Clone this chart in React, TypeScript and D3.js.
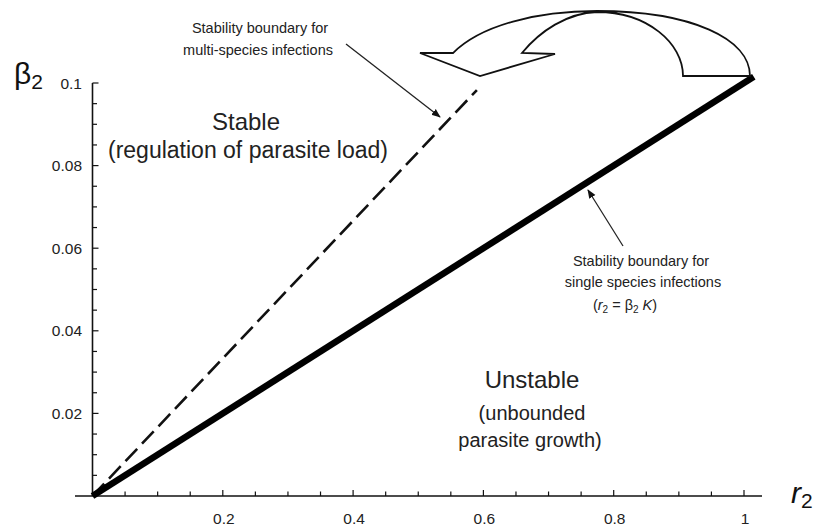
import React from "react";
import * as d3 from "d3";

const W = 815;
const H = 528;

// axis ticks
const xMajorTicks = [0.2, 0.4, 0.6, 0.8, 1];
const xTickLabels = ["0.2", "0.4", "0.6", "0.8", "1"];
const yMajorTicks = [0.02, 0.04, 0.06, 0.08, 0.1];
const yTickLabels = ["0.02", "0.04", "0.06", "0.08", "0.1"];
const xMinorStep = 0.05;
const yMinorStep = 0.005;

// boundary lines (r2, beta2)
const singleR = [0, 1.015];
const singleBeta = [0, 0.1015];
const multiR = [0, 0.59];
const multiBeta = [0, 0.0983];

// curved arrow outline, data units
const arrowHeadR = [0.5533, 0.5027, 0.5948, 0.7099, 0.6592];
const arrowHeadB = [0.10726, 0.10726, 0.10169, 0.10702, 0.10726];
const arrowTopR = 0.7744;
const arrowTopB = 0.11743;
const arrowInnerEndR = 0.9064;
const arrowOuterEndR = 1.0092;
const arrowEndB = 0.10169;

const FONT = "'Liberation Sans', Arial, Helvetica, sans-serif";

export default function App() {
  const x = d3.scaleLinear().domain([0, 1]).range([92.5, 744]);
  const y = d3.scaleLinear().domain([0, 0.1]).range([496, 83]);

  const xMinor = d3.range(xMinorStep, 1 + 1e-9, xMinorStep);
  const yMinor = d3.range(yMinorStep, 0.1 + 1e-9, yMinorStep);
  const isMajor = (v: number, arr: number[]) => arr.some((a) => Math.abs(a - v) < 1e-9);

  const line = d3
    .line<[number, number]>()
    .x((d) => x(d[0]))
    .y((d) => y(d[1]));

  const singlePts = singleR.map((r, i) => [r, singleBeta[i]] as [number, number]);
  const multiPts = multiR.map((r, i) => [r, multiBeta[i]] as [number, number]);

  // big curved arrow
  const hx = arrowHeadR.map((r) => x(r));
  const hy = arrowHeadB.map((b) => y(b));
  const tx = x(arrowTopR);
  const ty = y(arrowTopB);
  const ix = x(arrowInnerEndR);
  const ox = x(arrowOuterEndR);
  const ey = y(arrowEndB);
  const p = d3.path();
  p.moveTo(hx[0], hy[0]);
  p.bezierCurveTo(hx[0] + 28, ty + 14, tx - 60, ty, tx, ty);
  p.bezierCurveTo(tx + 95, ty, ox, ty + 28, ox, ey);
  p.lineTo(ix, ey);
  p.bezierCurveTo(ix, ty + 32, tx + 50, ty + 1, tx, ty + 1);
  p.bezierCurveTo(tx - 30, ty + 2, hx[4] + 18, hy[4] - 22, hx[4], hy[4]);
  p.lineTo(hx[3], hy[3]);
  p.lineTo(hx[2], hy[2]);
  p.lineTo(hx[1], hy[1]);
  p.closePath();

  return (
    <div style={{ position: "fixed", left: 0, top: 0 }}>
      <svg width={W} height={H} viewBox={`0 0 ${W} ${H}`} style={{ display: "block", background: "#fff" }}>
        <defs>
          <marker id="ah" viewBox="0 0 10 10" refX="9" refY="5" markerWidth="7" markerHeight="7" orient="auto">
            <path d="M0,1 L10,5 L0,9 Z" fill="#111" />
          </marker>
        </defs>
        <rect width={W} height={H} fill="#fff" />

        {/* axes */}
        <line x1={75} x2={762} y1={y(0)} y2={y(0)} stroke="#111" strokeWidth={1.6} />
        <line x1={x(0)} x2={x(0)} y1={y(0)} y2={y(0.1)} stroke="#111" strokeWidth={1.6} />
        {xMinor.map((v) => (
          <line key={"xt" + v} x1={x(v)} x2={x(v)} y1={y(0)} y2={y(0) - (isMajor(v, xMajorTicks) ? 6 : 4.5)} stroke="#111" strokeWidth={1.2} />
        ))}
        {yMinor.map((v) => (
          <line key={"yt" + v} x1={x(0)} x2={x(0) + (isMajor(v, yMajorTicks) ? 6 : 4.5)} y1={y(v)} y2={y(v)} stroke="#111" strokeWidth={1.2} />
        ))}
        {xMajorTicks.map((v, i) => (
          <text key={"xl" + v} x={x(v) + 1} y={524} fontFamily={FONT} fontSize={15.5} textAnchor="middle" fill="#222">
            {xTickLabels[i]}
          </text>
        ))}
        {yMajorTicks.map((v, i) => (
          <text key={"yl" + v} x={82} y={y(v) + 5.5} fontFamily={FONT} fontSize={15.5} textAnchor="end" fill="#222">
            {yTickLabels[i]}
          </text>
        ))}

        {/* axis titles */}
        <text x={14} y={84} fontFamily={FONT} fontSize={30} fill="#111">
          β<tspan fontSize={21} dy={5}>2</tspan>
        </text>
        <text x={791} y={503} fontFamily={FONT} fontSize={30} fontStyle="italic" fill="#111">
          r<tspan fontSize={21} dy={5} fontStyle="normal">2</tspan>
        </text>

        {/* boundary lines */}
        <path d={line(multiPts) || ""} fill="none" stroke="#111" strokeWidth={2.6} strokeDasharray="17,7" />
        <path d={line(singlePts) || ""} fill="none" stroke="#000" strokeWidth={6.5} />

        {/* region labels */}
        <text x={246} y={130} fontFamily={FONT} fontSize={24} textAnchor="middle" fill="#222">Stable</text>
        <text x={248} y={158} fontFamily={FONT} fontSize={23} textAnchor="middle" fill="#222">(regulation of parasite load)</text>
        <text x={532} y={388} fontFamily={FONT} fontSize={24} textAnchor="middle" fill="#222">Unstable</text>
        <text x={532} y={420} fontFamily={FONT} fontSize={20} textAnchor="middle" fill="#222">(unbounded</text>
        <text x={530} y={447} fontFamily={FONT} fontSize={20} textAnchor="middle" fill="#222">parasite growth)</text>

        {/* annotation: multi-species */}
        <text x={260} y={33} fontFamily={FONT} fontSize={14.5} textAnchor="middle" fill="#222">Stability boundary for</text>
        <text x={258} y={55} fontFamily={FONT} fontSize={14.5} textAnchor="middle" fill="#222">multi-species infections</text>
        <line x1={346} y1={44} x2={440} y2={117} stroke="#222" strokeWidth={1.3} markerEnd="url(#ah)" />

        {/* annotation: single species */}
        <text x={641} y={266} fontFamily={FONT} fontSize={14.5} textAnchor="middle" fill="#222">Stability boundary for</text>
        <text x={643} y={287} fontFamily={FONT} fontSize={14.5} textAnchor="middle" fill="#222">single species infections</text>
        <text x={625} y={310} fontFamily={FONT} fontSize={14.5} textAnchor="middle" fill="#222">
          (<tspan fontStyle="italic">r</tspan><tspan fontSize={10} dy={3}>2</tspan><tspan dy={-3}> = β</tspan><tspan fontSize={10} dy={3}>2</tspan><tspan dy={-3} fontStyle="italic"> K</tspan>)
        </text>
        <line x1={623} y1={246} x2={588} y2={190} stroke="#222" strokeWidth={1.3} markerEnd="url(#ah)" />

        {/* big curved arrow */}
        <path d={p.toString()} fill="#fff" stroke="#111" strokeWidth={1.8} strokeLinejoin="miter" />
      </svg>
    </div>
  );
}
